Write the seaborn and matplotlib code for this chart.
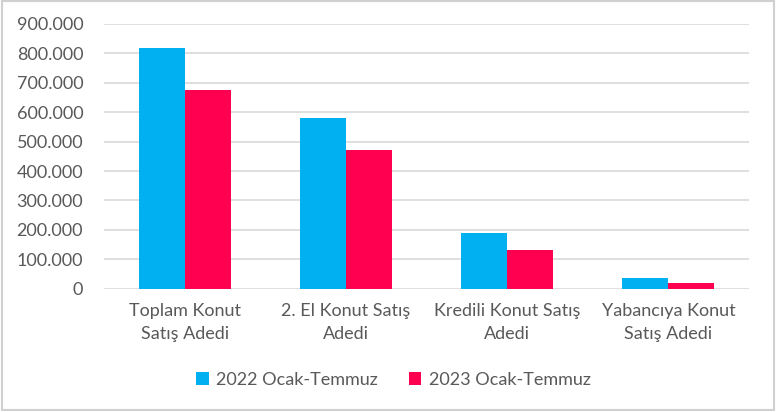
import numpy as np
import pandas as pd
import matplotlib
matplotlib.use('Agg')
import seaborn as sns
import matplotlib.pyplot as plt
from matplotlib.patches import Rectangle
from matplotlib.ticker import FuncFormatter

categories = ['Toplam Konut\nSatış Adedi', '2. El Konut Satış\nAdedi',
              'Kredili Konut Satış\nAdedi', 'Yabancıya Konut\nSatış Adedi']
series = ['2022 Ocak-Temmuz', '2023 Ocak-Temmuz']
values_2022 = [820000, 582000, 188000, 36000]
values_2023 = [676000, 471000, 133000, 19000]
colors = ['#00B0F0', '#FF0050']

sns.set_style('white')
plt.rcParams['font.family'] = ['Lato', 'DejaVu Sans']

df = pd.DataFrame({
    'kategori': categories * 2,
    'donem': [series[0]] * 4 + [series[1]] * 4,
    'adet': values_2022 + values_2023,
})

fig = plt.figure(figsize=(7.76, 4.12), dpi=100)
ax = fig.add_axes([104 / 776, 1 - 288.7 / 412, (749 - 104) / 776, (288.7 - 24) / 412])

sns.barplot(data=df, x='kategori', y='adet', hue='donem', palette=colors,
            width=0.57, saturation=1, ax=ax, zorder=3, errorbar=None, linewidth=0)

ax.set_ylim(0, 900000)
ax.set_yticks(np.arange(0, 900001, 100000))
ax.yaxis.set_major_formatter(FuncFormatter(lambda v, p: '0' if v == 0 else f'{int(v):,}'.replace(',', '.')))
ax.grid(axis='y', color='#D9D9D9', lw=1.2, zorder=0)
ax.set_xlabel('')
ax.set_ylabel('')
for s in ax.spines.values():
    s.set_visible(False)
ax.tick_params(axis='y', length=0, pad=15, labelsize=13, labelcolor='#595959')
ax.tick_params(axis='x', length=0, pad=10, labelsize=13, labelcolor='#595959')
for t in ax.get_xticklabels():
    t.set_linespacing(1.6)

handles, labels = ax.get_legend_handles_labels()
ax.get_legend().remove()
leg = fig.legend(handles, labels, loc='center', bbox_to_anchor=(0.507, 1 - 380 / 412), ncol=2,
                 frameon=False, fontsize=13, handlelength=0.7, handleheight=0.7,
                 handletextpad=0.4, columnspacing=1.7)
for t in leg.get_texts():
    t.set_color('#595959')

fig.patches.append(Rectangle((0.002, 0.004), 0.995, 0.993, transform=fig.transFigure,
                             fill=False, edgecolor='#D0D0D0', lw=1.5))

fig.savefig('out.png', dpi=100)
